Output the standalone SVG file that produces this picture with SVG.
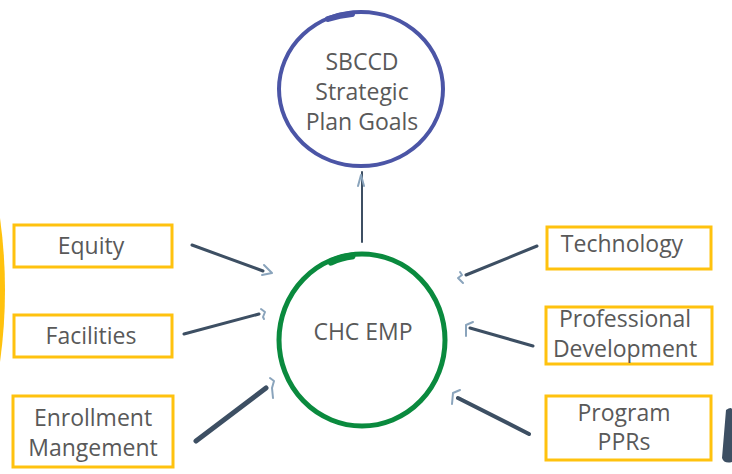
<svg xmlns="http://www.w3.org/2000/svg" width="732" height="474" viewBox="0 0 732 474">
<style>
.box{fill:#fff;stroke:#FFC20E;stroke-width:3}
.lbl{font-family:"Open Sans","Noto Sans",sans-serif;font-size:23px;fill:#595959;text-anchor:middle}
.con{stroke:#3D4F63;stroke-linecap:round;fill:none}
.head{stroke:#8AA4BC;stroke-width:2;fill:none;stroke-linecap:round;stroke-linejoin:round}
</style>
<rect width="732" height="474" fill="#fff"/>
<path d="M0,218 Q10,290 0,362 Z" fill="#FFC20E"/>
<path d="M726,410 Q733,405 732,412 L732,462 Q724,464 722,458 Z" fill="#3D4F63"/>
<g id="sbccd">
<ellipse cx="361" cy="89" rx="82" ry="77" fill="none" stroke="#4B55A6" stroke-width="4"/>
<path d="M328,19 Q340,15 352,14" stroke="#4B55A6" stroke-width="6" fill="none" stroke-linecap="round"/>
<text class="lbl" x="362" y="70">SBCCD</text>
<text class="lbl" x="362" y="100">Strategic</text>
<text class="lbl" x="362" y="130">Plan Goals</text>
</g>
<g id="chc">
<ellipse cx="362" cy="340" rx="83" ry="86" fill="none" stroke="#0A8A3E" stroke-width="5"/>
<path d="M331,262 Q342,257 352,256" stroke="#0A8A3E" stroke-width="7" fill="none" stroke-linecap="round"/>
<text class="lbl" x="363" y="340">CHC EMP</text>
</g>
<g id="equity">
<rect class="box" x="14" y="225" width="158" height="42"/>
<text class="lbl" x="91" y="254">Equity</text>
</g>
<g id="facilities">
<rect class="box" x="14" y="315" width="158" height="42"/>
<text class="lbl" x="91" y="344">Facilities</text>
</g>
<g id="enrollment">
<rect class="box" x="13" y="396" width="160" height="71"/>
<text class="lbl" x="93" y="426">Enrollment</text>
<text class="lbl" x="93" y="456">Mangement</text>
</g>
<g id="technology">
<rect class="box" x="547" y="227" width="164" height="42"/>
<text class="lbl" x="622" y="252">Technology</text>
</g>
<g id="professional">
<rect class="box" x="546" y="307" width="166" height="57"/>
<text class="lbl" x="625" y="327">Professional</text>
<text class="lbl" x="625" y="357">Development</text>
</g>
<g id="program">
<rect class="box" x="546" y="396" width="165" height="64"/>
<text class="lbl" x="624" y="421">Program</text>
<text class="lbl" x="624" y="450">PPRs</text>
</g>
<g id="connectors">
<line class="con" x1="362" y1="242" x2="362" y2="172" stroke-width="2"/>
<path class="head" d="M358,186 L361,175 L364,186" stroke="#3D4F63"/>
<line class="con" x1="192" y1="245" x2="263" y2="271" stroke-width="3"/>
<path class="head" d="M264,265 L272,273 L262,275"/>
<line class="con" x1="184" y1="334" x2="259" y2="314" stroke-width="3"/>
<path class="head" d="M261,309 L265,312 L263,317 L264,319"/>
<line class="con" x1="196" y1="441" x2="266" y2="388" stroke-width="5"/>
<path class="head" d="M270,378 L274,381 L272,388 L273,398"/>
<line class="con" x1="537" y1="246" x2="466" y2="275" stroke-width="3"/>
<path class="head" d="M460,272 L462,275 L458,278 L463,283"/>
<line class="con" x1="533" y1="346" x2="470" y2="328" stroke-width="3"/>
<path class="head" d="M473,322 L466,325 L466,336"/>
<line class="con" x1="529" y1="434" x2="458" y2="398" stroke-width="4"/>
<path class="head" d="M460,390 L453,393 L452,404"/>
</g>
</svg>
